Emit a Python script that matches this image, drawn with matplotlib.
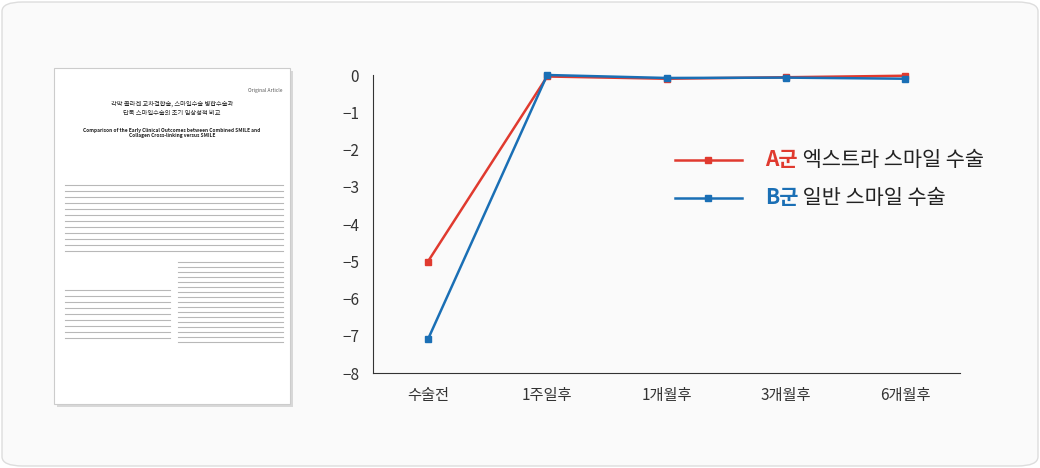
import matplotlib
matplotlib.use("Agg")
import matplotlib.pyplot as plt
from matplotlib.patches import FancyBboxPatch, Rectangle
from matplotlib.lines import Line2D
import numpy as np

plt.rcParams['font.family'] = ['Noto Sans CJK KR', 'DejaVu Sans']

categories = ["수술전", "1주일후", "1개월후", "3개월후", "6개월후"]
series_a = [-5.01, -0.04, -0.1, -0.06, -0.02]
series_b = [-7.1, 0.0, -0.08, -0.07, -0.1]
label_a = ("A군", " 엑스트라 스마일 수술")
label_b = ("B군", " 일반 스마일 수술")
yticks = [0, -1, -2, -3, -4, -5, -6, -7, -8]

RED = "#e03a2f"
BLUE = "#1a6fb5"
W, H = 1040, 468
fig = plt.figure(figsize=(W/100, H/100), dpi=100)
fig.patch.set_facecolor("white")
bg = FancyBboxPatch((2/W, 2/H), 1-4/W, 1-4/H, boxstyle="round,pad=0,rounding_size=0.02",
                    transform=fig.transFigure, facecolor="#fafafa", edgecolor="#dddddd", lw=1, zorder=-10)
fig.patches.append(bg)

# document thumbnail
fig.patches.append(Rectangle((57/W, (H-407)/H), 236/W, 336/H, transform=fig.transFigure,
                             facecolor="#d8d8d8", edgecolor="none", zorder=-9))
fig.patches.append(Rectangle((54/W, (H-404)/H), 236/W, 336/H, transform=fig.transFigure,
                             facecolor="white", edgecolor="#cccccc", lw=0.8, zorder=-8))
fig.text(172/W, 1-108/H, "각막 콜라겐 교차결합술, 스마일수술 병합수술과\n단독 스마일수술의 초기 임상성적 비교",
         ha="center", va="center", fontsize=4.5, color="#222222")
fig.text(172/W, 1-133/H, "Comparison of the Early Clinical Outcomes between Combined SMILE and\nCollagen Cross-linking versus SMILE",
         ha="center", va="center", fontsize=3.5, color="#222222", weight="bold")
fig.text(282/W, 1-92/H, "Original Article", ha="right", fontsize=3.5, color="#555555")
for yy in list(range(185, 255, 6)):
    fig.add_artist(Line2D([65/W, 283/W], [1-yy/H, 1-yy/H], color="#9a9a9a", lw=0.8, alpha=0.7))
for yy in range(290, 340, 6):
    fig.add_artist(Line2D([65/W, 170/W], [1-yy/H, 1-yy/H], color="#9a9a9a", lw=0.8, alpha=0.7))
for yy in range(262, 345, 5):
    fig.add_artist(Line2D([178/W, 283/W], [1-yy/H, 1-yy/H], color="#9a9a9a", lw=0.8, alpha=0.7))

ax = fig.add_axes([373/W, (H-373)/H, (960-373)/W, (373-75)/H])
ax.set_facecolor("none")
x = np.arange(len(categories))
ax.plot(x, series_a, color=RED, marker="s", ms=5, lw=1.8, clip_on=False)
ax.plot(x, series_b, color=BLUE, marker="s", ms=5, lw=1.8, clip_on=False)
ax.set_xlim(-0.46, 4.46)
ax.set_ylim(-8, 0)
ax.set_yticks(yticks)
ax.set_yticklabels([str(v).replace("-", "−") if v else "0" for v in yticks])
ax.set_xticks(x)
ax.set_xticklabels(categories)
for s in ["top", "right"]:
    ax.spines[s].set_visible(False)
for s in ["left", "bottom"]:
    ax.spines[s].set_color("#333333")
ax.tick_params(length=0, labelsize=11, colors="#333333", pad=10)

for yy, col, (g, rest) in [(160, RED, label_a), (198, BLUE, label_b)]:
    fig.add_artist(Line2D([675/W, 742/W], [1-yy/H]*2, color=col, lw=1.8, transform=fig.transFigure))
    fig.add_artist(Line2D([708/W], [1-yy/H], color=col, marker="s", ms=5, transform=fig.transFigure))
    t = fig.text(765/W, 1-yy/H, g, color=col, fontsize=15, weight="bold", va="center")
    fig.canvas.draw()
    bb = t.get_window_extent()
    fig.text(bb.x1/W, 1-yy/H, rest, color="#222222", fontsize=15, va="center")

fig.savefig("out.png", dpi=100, facecolor=fig.get_facecolor())
